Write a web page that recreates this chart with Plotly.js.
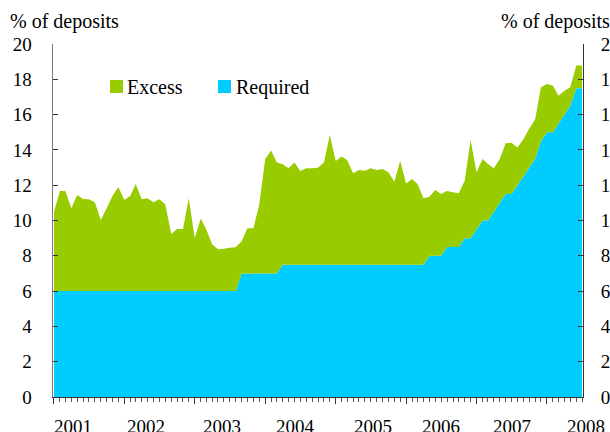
<!DOCTYPE html>
<html>
<head>
<meta charset="utf-8">
<script src="https://cdn.plot.ly/plotly-3.0.1.min.js"></script>
<style>html,body{margin:0;padding:0;background:#fff;}#chart{width:610px;height:432px;}</style>
</head>
<body>
<div id="chart"></div>
<script>
// ---- Data (monthly, Jan 2001 - Jul 2008), % of deposits ----
const startYear = 2001;
const monthCount = 91;
const months = [];
for (let i = 0; i < monthCount; i++) {
  const y = startYear + Math.floor(i / 12);
  const m = (i % 12) + 1;
  months.push(y + '-' + (m < 10 ? '0' + m : m) + '-01');
}

const requiredReserves = [
  6, 6, 6, 6, 6, 6, 6, 6, 6, 6, 6, 6,
  6, 6, 6, 6, 6, 6, 6, 6, 6, 6, 6, 6,
  6, 6, 6, 6, 6, 6, 6, 6,
  7, 7, 7, 7, 7, 7, 7,
  7.5, 7.5, 7.5, 7.5, 7.5, 7.5, 7.5, 7.5, 7.5, 7.5, 7.5, 7.5, 7.5,
  7.5, 7.5, 7.5, 7.5, 7.5, 7.5, 7.5, 7.5, 7.5, 7.5, 7.5, 7.5,
  8, 8, 8,
  8.5, 8.5, 8.5,
  9, 9,
  9.5,
  10, 10,
  10.5,
  11,
  11.5, 11.5,
  12,
  12.5,
  13,
  13.5,
  14.5,
  15, 15,
  15.5,
  16,
  16.5,
  17.5, 17.5
];

const excessReserves = [
  4.5, 5.67, 5.67, 4.69, 5.44, 5.22, 5.2, 5.03, 4.03, 4.7, 5.4, 5.9,
  5.16, 5.4, 6.07, 5.2, 5.26, 5.03, 5.2, 4.92, 3.24, 3.52, 3.52, 5.26,
  2.99, 4.12, 3.52, 2.65, 2.37, 2.4, 2.45, 2.48, 1.82, 2.56, 2.56, 3.88,
  6.47, 6.96, 6.3, 5.68, 5.46, 5.78, 5.3, 5.46, 5.46, 5.49, 5.8, 7.34,
  5.87, 6.12, 5.93, 5.17, 5.36, 5.32, 5.46, 5.36, 5.42, 5.23, 4.7, 5.89,
  4.6, 4.85, 4.57, 3.76, 3.35, 3.73, 3.5, 3.17, 3.1, 3.04, 3.26, 5.56,
  3.23, 3.48, 3.2, 2.46, 2.47, 2.87, 2.91, 2.13, 2.1, 2.2, 2.23, 3.05,
  2.73, 2.64, 1.57, 1.35, 1.05, 1.28, 1.28
];

const seriesNames = ['Excess', 'Required'];
const yearLabels = ['2001', '2002', '2003', '2004', '2005', '2006', '2007', '2008'];
const yTickVals = [0, 2, 4, 6, 8, 10, 12, 14, 16, 18, 20];
const unitLabel = '% of deposits';

// ---- Styling / layout ----
const GREEN = '#99CC00';
const CYAN = '#00CCFF';
const FONT = 'Liberation Serif, Times New Roman, serif';
const FS = 19;
const FS_TITLE = 20;

const W = 610, H = 432;
const L = 53, R = 27, T = 44, B = 35;
const pw = W - L - R, ph = H - T - B;
const px = x => (x - L) / pw;
const py = y => (H - B - y) / ph;

const traces = [
  {
    x: months, y: requiredReserves, name: seriesNames[1],
    type: 'scatter', mode: 'none', stackgroup: 'res',
    fill: 'tozeroy', fillcolor: CYAN, line: {width: 0},
    showlegend: false, hoverinfo: 'skip'
  },
  {
    x: months, y: excessReserves, name: seriesNames[0],
    type: 'scatter', mode: 'none', stackgroup: 'res',
    fill: 'tonexty', fillcolor: GREEN, line: {width: 0},
    showlegend: false, hoverinfo: 'skip'
  },
  {
    x: [months[0]], y: [null], yaxis: 'y2', type: 'scatter', mode: 'none',
    showlegend: false, hoverinfo: 'skip'
  }
];

const labelCentersPx = [73, 146, 222, 295, 373, 441, 512, 586];

const annotations = yearLabels.map((t, i) => ({
  text: t, xref: 'paper', yref: 'paper',
  x: px(labelCentersPx[i]), y: 0, yshift: -29,
  xanchor: 'center', yanchor: 'middle', showarrow: false,
  font: {family: FONT, size: FS, color: '#000'}
}));

annotations.push(
  {text: unitLabel, xref: 'paper', yref: 'paper', x: px(8), y: py(21),
   xanchor: 'left', yanchor: 'middle', showarrow: false,
   font: {family: FONT, size: FS_TITLE, color: '#000'}},
  {text: unitLabel, xref: 'paper', yref: 'paper', x: px(499), y: py(21),
   xanchor: 'left', yanchor: 'middle', showarrow: false,
   font: {family: FONT, size: FS_TITLE, color: '#000'}},
  {text: seriesNames[0], xref: 'paper', yref: 'paper', x: px(125), y: py(87),
   xanchor: 'left', yanchor: 'middle', showarrow: false,
   font: {family: FONT, size: FS_TITLE, color: '#000'}},
  {text: seriesNames[1], xref: 'paper', yref: 'paper', x: px(234), y: py(87),
   xanchor: 'left', yanchor: 'middle', showarrow: false,
   font: {family: FONT, size: FS_TITLE, color: '#000'}}
);

const shapes = [
  {type: 'rect', xref: 'paper', yref: 'paper', x0: px(110), x1: px(123), y0: py(93), y1: py(80),
   fillcolor: GREEN, line: {width: 0}},
  {type: 'rect', xref: 'paper', yref: 'paper', x0: px(218), x1: px(231), y0: py(93), y1: py(80),
   fillcolor: CYAN, line: {width: 0}}
];

const yearTicks = yearLabels.map(y => y + '-01-01');

const layout = {
  width: W, height: H,
  margin: {l: L, r: R, t: T, b: B, pad: 0},
  paper_bgcolor: '#fff', plot_bgcolor: '#fff',
  showlegend: false,
  font: {family: FONT, size: FS, color: '#000'},
  xaxis: {
    type: 'date', range: ['2000-12-27', '2008-07-06'],
    showgrid: false, zeroline: false,
    showline: true, linecolor: '#333', linewidth: 1,
    tickmode: 'array', tickvals: yearTicks, showticklabels: false,
    ticks: 'outside', ticklen: 6, tickwidth: 1, tickcolor: '#333',
    minor: {dtick: 'M1', tick0: '2001-01-01', ticks: 'outside', ticklen: 4, tickwidth: 1, tickcolor: '#555', showgrid: false}
  },
  yaxis: {
    range: [0, 20], tickmode: 'array', tickvals: yTickVals,
    showgrid: false, zeroline: false,
    showline: true, linecolor: '#777', linewidth: 1.5,
    ticks: 'inside', ticklen: 5, tickwidth: 1, tickcolor: '#333',
    ticklabelstandoff: 16,
    tickfont: {family: FONT, size: FS, color: '#000'}
  },
  yaxis2: {
    range: [0, 20], tickmode: 'array', tickvals: yTickVals,
    overlaying: 'y', side: 'right', anchor: 'x',
    showgrid: false, zeroline: false,
    showline: true, linecolor: '#333', linewidth: 1,
    ticks: 'inside', ticklen: 5, tickwidth: 1, tickcolor: '#333',
    ticklabelstandoff: 13,
    tickfont: {family: FONT, size: FS, color: '#000'}
  },
  annotations: annotations,
  shapes: shapes
};

Plotly.newPlot('chart', traces, layout, {displayModeBar: false, staticPlot: true});
</script>
</body>
</html>
